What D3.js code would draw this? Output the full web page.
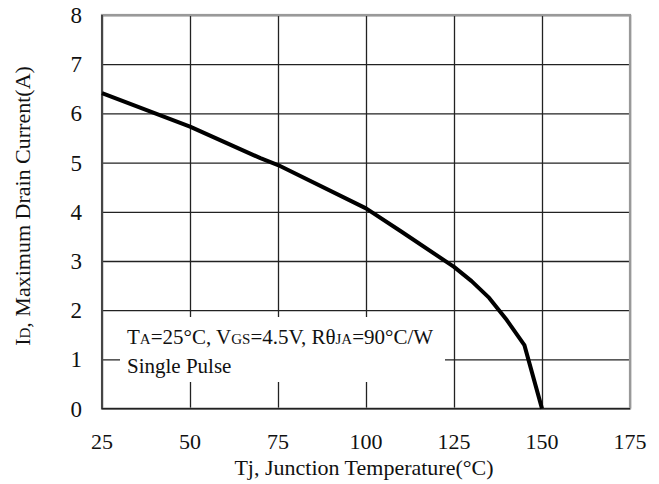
<!DOCTYPE html>
<html>
<head>
<meta charset="utf-8">
<script src="https://cdn.jsdelivr.net/npm/d3@7"></script>
<style>
  body { margin: 0; background: #fff; }
  text { font-family: "Liberation Serif", "Times New Roman", serif; fill: #111; }
</style>
</head>
<body>
<div id="chart"></div>
<script>
// curve
const tempC = [25, 50, 70, 75, 100, 110, 125, 130, 135, 140, 145, 150];
const currentA = [6.41, 5.73, 5.09, 4.95, 4.07, 3.6, 2.88, 2.59, 2.25, 1.8, 1.29, 0];

const xTicks = [25, 50, 75, 100, 125, 150, 175];
const yTicks = [0, 1, 2, 3, 4, 5, 6, 7, 8];

const width = 659;
const height = 484;
const plotLeft = 102, plotRight = 630, plotTop = 15, plotBottom = 408.6;

const svg = d3
  .select("#chart")
  .append("svg")
  .attr("width", width)
  .attr("height", height);

const x = d3.scaleLinear().domain([25, 175]).range([plotLeft, plotRight]);
const y = d3.scaleLinear().domain([0, 8]).range([plotBottom, plotTop]);

// grid
svg
  .append("g")
  .attr("transform", `translate(0,${plotBottom})`)
  .call(d3.axisBottom(x).tickValues(xTicks).tickSize(-(plotBottom - plotTop)).tickFormat(""))
  .call((g) => g.select(".domain").remove())
  .selectAll("line")
  .attr("stroke", "#222")
  .attr("stroke-width", 1.3);

svg
  .append("g")
  .attr("transform", `translate(${plotLeft},0)`)
  .call(d3.axisLeft(y).tickValues(yTicks).tickSize(-(plotRight - plotLeft)).tickFormat(""))
  .call((g) => g.select(".domain").remove())
  .selectAll("line")
  .attr("stroke", "#222")
  .attr("stroke-width", 1.3);

// white box behind the note
svg
  .append("rect")
  .attr("x", 120)
  .attr("y", 317)
  .attr("width", 325)
  .attr("height", 65)
  .attr("fill", "#fff");

// frame
svg
  .append("rect")
  .attr("x", plotLeft)
  .attr("y", plotTop)
  .attr("width", plotRight - plotLeft)
  .attr("height", plotBottom - plotTop)
  .attr("fill", "none")
  .attr("stroke", "#999")
  .attr("stroke-width", 2.2);
svg
  .append("path")
  .attr("d", `M${plotLeft},${plotTop}V${plotBottom}H${plotRight}`)
  .attr("fill", "none")
  .attr("stroke", "#222")
  .attr("stroke-width", 1.4);

// curve
const line = d3
  .line()
  .x((d, i) => x(tempC[i]))
  .y((d) => y(d));

svg
  .append("path")
  .datum(currentA)
  .attr("d", line)
  .attr("fill", "none")
  .attr("stroke", "#000")
  .attr("stroke-width", 4)
  .attr("stroke-linejoin", "round");

// tick labels
svg
  .append("g")
  .selectAll("text")
  .data(xTicks)
  .join("text")
  .attr("x", (d) => x(d))
  .attr("y", 449)
  .attr("text-anchor", "middle")
  .style("font-size", "22px")
  .text((d) => d);

svg
  .append("g")
  .selectAll("text")
  .data(yTicks)
  .join("text")
  .attr("x", 82)
  .attr("y", (d) => y(d) + 8)
  .attr("text-anchor", "end")
  .style("font-size", "23px")
  .text((d) => d);

// axis titles
svg
  .append("text")
  .attr("x", 364)
  .attr("y", 475)
  .attr("text-anchor", "middle")
  .style("font-size", "22px")
  .text("Tj, Junction Temperature(°C)");

const yTitle = svg
  .append("text")
  .attr("transform", "translate(30,206) rotate(-90)")
  .attr("text-anchor", "middle")
  .style("font-size", "22px");
yTitle.append("tspan").text("I");
yTitle.append("tspan").style("font-size", "15px").text("D");
yTitle.append("tspan").text(", Maximum Drain Current(A)");

// note
const note = svg
  .append("text")
  .attr("x", 127)
  .attr("y", 344)
  .style("font-size", "21px");
const parts = [
  ["T", false], ["A", true], ["=25°C, V", false], ["GS", true],
  ["=4.5V, Rθ", false], ["JA", true], ["=90°C/W", false]
];
parts.forEach(([t, sub]) => {
  note.append("tspan").style("font-size", sub ? "15px" : "21px").text(t);
});

svg
  .append("text")
  .attr("x", 127)
  .attr("y", 373)
  .style("font-size", "21px")
  .text("Single Pulse");
</script>
</body>
</html>
